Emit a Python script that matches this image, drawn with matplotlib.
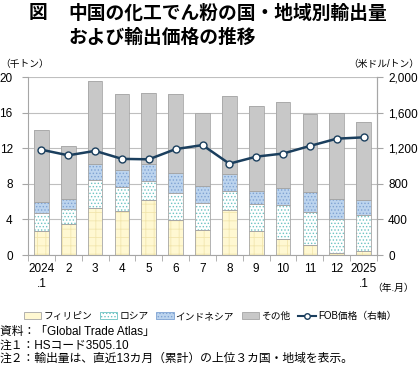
import numpy as np
import matplotlib
matplotlib.use('Agg')
import matplotlib.pyplot as plt
from matplotlib.patches import Patch
from matplotlib.lines import Line2D

plt.rcParams['font.family'] = ['Liberation Sans', 'Noto Sans CJK JP']
plt.rcParams['hatch.linewidth'] = 0.6

# data (thousand tons, USD/ton)
months = ['2024\n.1', '2', '3', '4', '5', '6', '7', '8', '9', '10', '11', '12', '2025\n.1']
philippines = [2.7, 3.45, 5.3, 5.0, 6.15, 3.9, 2.85, 5.1, 2.65, 1.85, 1.1, 0.25, 0.4]
russia = [2.0, 1.7, 3.1, 2.6, 2.15, 3.05, 2.95, 2.05, 3.05, 3.75, 3.7, 3.85, 4.1]
indonesia = [1.2, 1.15, 1.8, 1.95, 1.9, 2.3, 1.95, 1.95, 1.5, 1.9, 2.25, 2.2, 1.7]
others = [8.1, 6.0, 9.3, 8.55, 8.05, 8.85, 8.25, 8.8, 9.5, 9.65, 8.75, 9.7, 8.75]
fob = [1183, 1120, 1170, 1080, 1075, 1190, 1235, 1026, 1105, 1140, 1225, 1307, 1322]

x = np.arange(len(months))
w = 0.55

fig = plt.figure(figsize=(4.2, 3.75), dpi=100)
ax = fig.add_axes([28/420, 1 - 255/375, 349/420, 178/375])

series = [
    (philippines, '#FFF8D2', '#F2E6AE', '++'),
    (russia, '#FFFFFF', '#6CC3C3', '.....'),
    (indonesia, '#BCD4EE', '#7FA3D3', '.....'),
    (others, '#C8C8C8', '#C8C8C8', None),
]
bottom = np.zeros(len(x))
for vals, fc, hc, hatch in series:
    vals = np.array(vals)
    ax.bar(x, vals, w, bottom=bottom, color=fc, edgecolor=hc, hatch=hatch, lw=0, zorder=2)
    ax.bar(x, vals, w, bottom=bottom, fill=False, edgecolor='#A6A6A6', lw=0.6, zorder=3)
    bottom += vals

ax.set_xlim(-0.5, len(x) - 0.5)
ax.set_ylim(0, 20)
ax.set_yticks(range(0, 21, 4))
ax.yaxis.grid(True, color='#BFBFBF', lw=0.8, zorder=0)
ax.set_axisbelow(True)
ax.set_xticks(x)
ax.set_xticklabels(months, fontsize=8.5, linespacing=1.3)
ax.set_xticks(np.arange(-0.5, len(x), 1), minor=True)
ax.tick_params(axis='x', which='major', length=0, pad=6)
ax.tick_params(axis='x', which='minor', length=4, color='#A6A6A6')
ax.tick_params(axis='y', length=4, color='#A6A6A6', labelsize=8.5, pad=7)
ax.spines['top'].set_visible(False)
for s in ['left', 'right', 'bottom']:
    ax.spines[s].set_color('#A6A6A6')

ax2 = ax.twinx()
ax2.plot(x, fob, color='#1B3F5E', lw=1.8, marker='o', ms=5, mfc='white', mec='#1B3F5E', mew=1.0, zorder=5)
ax2.set_ylim(0, 2000)
ax2.set_yticks(range(0, 2001, 400))
ax2.set_yticklabels([f'{v:,}' for v in range(0, 2001, 400)])
ax2.tick_params(axis='y', length=4, color='#A6A6A6', labelsize=8.5, pad=4)
for s in ['top', 'left', 'bottom']:
    ax2.spines[s].set_visible(False)
ax2.spines['right'].set_color('#A6A6A6')

fig.text(0, 1 - 64/375, '（千トン）', fontsize=7, va='center')
fig.text(419/420, 1 - 64/375, '（米ドル/トン）', fontsize=7, va='center', ha='right')
fig.text(372/420, 1 - 288/375, '（年.月）', fontsize=7, va='center')

fig.text(29/420, 1 - 14/375, '図', fontsize=13.5, fontweight='bold', va='center')
fig.text(68/420, 1 - 14/375, '中国の化工でん粉の国・地域別輸出量', fontsize=13.5, fontweight='bold', va='center')
fig.text(68/420, 1 - 38/375, 'および輸出価格の推移', fontsize=13.5, fontweight='bold', va='center')

handles = [
    Patch(facecolor='#FFF8D2', edgecolor='#A6A6A6', lw=0.6),
    Patch(facecolor='#FFFFFF', edgecolor='#6CC3C3', hatch='.....', lw=0.6),
    Patch(facecolor='#BCD4EE', edgecolor='#7FA3D3', hatch='.....', lw=0.6),
    Patch(facecolor='#C8C8C8', edgecolor='#A6A6A6', lw=0.6),
    Line2D([], [], color='#1B3F5E', lw=1.5, marker='o', ms=4, mfc='white', mec='#1B3F5E'),
]
labels = ['フィリピン', 'ロシア', 'インドネシア', 'その他', 'FOB価格（右軸）']
fig.legend(handles, labels, loc='center', bbox_to_anchor=(210/420, 1 - 316/375), ncol=5,
           frameon=False, fontsize=7, handlelength=1.8, handleheight=0.6,
           handletextpad=0.2, columnspacing=0.8)

notes = ['資料：「Global Trade Atlas」', '注１：HSコード3505.10', '注２：輸出量は、直近13カ月（累計）の上位３カ国・地域を表示。']
for i, t in enumerate(notes):
    fig.text(0, 1 - (332 + 13.5 * i)/375, t, fontsize=8.5, va='center')

fig.savefig('out.png', dpi=100)
